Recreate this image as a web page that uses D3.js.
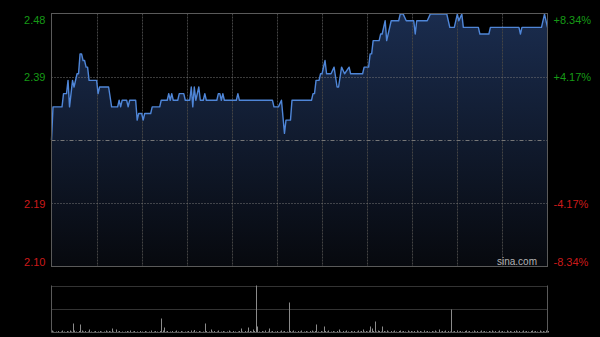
<!DOCTYPE html>
<html>
<head>
<meta charset="utf-8">
<script src="https://cdn.jsdelivr.net/npm/d3@7"></script>
<style>
  html, body { margin: 0; padding: 0; background: #000; }
  svg { display: block; }
  text { font-family: Arial, "Liberation Sans", sans-serif; }
</style>
</head>
<body>
<svg id="chart" width="600" height="337"></svg>
<script>
// ---- data ----
const prevClose = 2.29;
const rangePct = 0.0834;
const tickPcts = [0.0834, 0.0417, -0.0417, -0.0834];
const pctTicks = ["+8.34%", "+4.17%", "-4.17%", "-8.34%"];
const priceLabels = ["2.48", "2.39", "2.19", "2.10"];
const totalMinutes = 330;
const minutes = [0,1,7,8,10,11,12,14,15,17,18,19,20,21,22,23,24,25,30,31,32,38,40,44,45,46,47,50,51,52,56,57,58,60,61,62,66,67,72,73,77,78,79,80,81,84,85,88,89,92,93,94,95,96,98,99,101,102,103,110,111,112,113,114,115,123,124,125,147,148,151,153,155,156,159,160,173,174,175,176,178,179,180,182,183,186,188,190,191,193,195,198,199,207,208,211,212,213,214,218,219,220,222,223,226,231,232,234,236,241,242,243,250,252,263,264,265,268,270,271,273,274,284,285,291,292,311,312,313,326,328,330];
const prices = [2.29,2.34,2.34,2.36,2.36,2.38,2.34,2.38,2.37,2.39,2.39,2.42,2.42,2.41,2.41,2.40,2.40,2.38,2.38,2.36,2.37,2.37,2.34,2.34,2.35,2.34,2.35,2.35,2.34,2.35,2.35,2.32,2.33,2.33,2.32,2.33,2.33,2.34,2.34,2.35,2.35,2.36,2.35,2.36,2.35,2.35,2.36,2.36,2.35,2.35,2.37,2.34,2.37,2.35,2.37,2.35,2.35,2.36,2.35,2.35,2.36,2.36,2.35,2.36,2.35,2.35,2.36,2.35,2.35,2.34,2.34,2.35,2.30,2.32,2.32,2.35,2.35,2.36,2.36,2.38,2.38,2.39,2.39,2.41,2.39,2.39,2.40,2.37,2.37,2.40,2.39,2.40,2.39,2.39,2.40,2.40,2.42,2.42,2.44,2.44,2.45,2.45,2.47,2.44,2.47,2.47,2.48,2.48,2.47,2.47,2.45,2.47,2.47,2.48,2.48,2.47,2.46,2.46,2.48,2.47,2.48,2.46,2.46,2.45,2.45,2.46,2.46,2.45,2.46,2.46,2.48,2.46];
const volumes = [
  20,10,5,10,15,5,10,20,10,5, 15,10,20,10,90,20,10,5,15,80, 20,10,15,5,10,30,10,5,10,15,
  5,10,15,10,5,10,20,10,15,10, 40,10,5,30,10,15,5,10,5,10, 15,10,20,5,10,15,5,10,5,15,
  10,5,15,10,5,10,20,5,10,15, 10,5,15,140,20,50,10,15,5,10, 15,5,10,20,10,5,15,10,5,10,
  10,15,5,20,10,25,10,5,15,10, 5,10,90,15,5,10,30,10,15,5, 10,20,5,10,15,10,5,10,20,10,
  5,15,10,5,10,15,40,10,5,15, 10,50,15,10,30,15,470,60,10,5, 15,10,20,5,10,40,10,15,5,10,
  15,5,10,20,10,15,5,10,300,15, 10,20,10,5,15,10,20,5,10,15, 10,5,15,20,10,15,80,10,5,15,
  10,60,15,10,20,5,10,15,10,5, 15,30,10,5,15,10,20,10,5,15, 10,15,5,10,20,10,15,30,10,15,
  10,20,60,40,15,110,10,20,15,10, 60,15,10,20,10,5,15,10,20,10, 5,15,20,10,15,10,5,20,10,15,
  10,15,5,20,10,15,10,5,20,10, 15,10,5,15,10,20,10,5,30,10, 15,10,20,5,15,10,230,10,15,5,
  20,10,15,10,5,15,20,10,15,5, 10,20,10,15,5,10,20,10,15,10, 5,15,10,20,10,15,5,10,20,10,
  15,10,5,20,10,15,10,5,15,20, 10,15,5,10,20,10,15,10,5,15, 20,10,15,10,5,20,10,15,10,20,15
];

// ---- layout ----
const svg = d3.select("#chart");
const L = 51.5, R = 547.5, T = 13.5, B = 266.5;
const VT = 285.5, VB = 332.5;

const x = d3.scaleLinear().domain([0, totalMinutes]).range([L, R]);
const y = d3.scaleLinear().domain([prevClose * (1 - rangePct), prevClose * (1 + rangePct)]).range([B, T]);
const yv = d3.scaleLinear().domain([0, d3.max(volumes)]).range([VB, VT]);
const tickVals = tickPcts.map(p => prevClose * (1 + p));

const defs = svg.append("defs");
const grad = defs.append("linearGradient").attr("id", "areaGrad")
  .attr("gradientUnits", "userSpaceOnUse").attr("x1", 0).attr("x2", 0).attr("y1", T).attr("y2", B);
grad.append("stop").attr("offset", "0%").attr("stop-color", "#1a2c4e");
grad.append("stop").attr("offset", "100%").attr("stop-color", "#07090e");

const pts = minutes.map((m, i) => [m, prices[i]]);

// area
svg.append("path").datum(pts)
  .attr("fill", "url(#areaGrad)")
  .attr("d", d3.area().x(d => x(d[0])).y0(B).y1(d => y(d[1])));

// vertical grid
const vTicks = d3.range(30, totalMinutes, 30);
svg.append("g").selectAll("line").data(vTicks).join("line")
  .attr("x1", d => Math.round(x(d)) + 0.5).attr("x2", d => Math.round(x(d)) + 0.5)
  .attr("y1", T).attr("y2", B)
  .attr("stroke", "#444").attr("stroke-dasharray", "2,1");

// horizontal grid at +/-4.17%
svg.append("g").selectAll("line").data([tickVals[1], tickVals[2]]).join("line")
  .attr("x1", L).attr("x2", R)
  .attr("y1", d => Math.round(y(d)) + 0.5).attr("y2", d => Math.round(y(d)) + 0.5)
  .attr("stroke", "#777").attr("stroke-dasharray", "1,2");
// prev close line
svg.append("line")
  .attr("x1", L).attr("x2", R)
  .attr("y1", Math.round(y(prevClose)) + 0.5).attr("y2", Math.round(y(prevClose)) + 0.5)
  .attr("stroke", "#777").attr("stroke-dasharray", "4,2,1,2");

// price line
svg.append("path").datum(pts)
  .attr("fill", "none").attr("stroke", "#4f86d8").attr("stroke-width", 1.4)
  .attr("stroke-linejoin", "round")
  .attr("d", d3.line().x(d => x(d[0])).y(d => y(d[1])));

// frame
svg.append("rect").attr("x", L).attr("y", T).attr("width", R - L).attr("height", B - T)
  .attr("fill", "none").attr("stroke", "#5a5a5a");

// axis labels
const dyFor = i => i === 0 ? "0.95em" : (i === tickVals.length - 1 ? "-0.1em" : "0.35em");
const axL = d3.axisLeft(y).tickValues(tickVals).tickSize(0).tickFormat((d, i) => priceLabels[i]);
const gL = svg.append("g").attr("transform", `translate(${L - 3},0)`).call(axL);
gL.select(".domain").remove();
gL.selectAll("text")
  .attr("font-size", 11)
  .attr("fill", d => d > prevClose ? "#169a16" : "#cc1a1a")
  .attr("dy", (d, i) => dyFor(i));

const axR = d3.axisRight(y).tickValues(tickVals).tickSize(0).tickFormat((d, i) => pctTicks[i]);
const gR = svg.append("g").attr("transform", `translate(${R + 3},0)`).call(axR);
gR.select(".domain").remove();
gR.selectAll("text")
  .attr("font-size", 11)
  .attr("fill", d => d > prevClose ? "#169a16" : "#cc1a1a")
  .attr("dy", (d, i) => dyFor(i));

// watermark
svg.append("text").attr("x", 537).attr("y", 264.5).attr("text-anchor", "end")
  .attr("font-size", 10).attr("fill", "#b4b4b4").text("sina.com");

// ---- volume panel ----
svg.append("g").selectAll("line").data([yv.domain()[1], yv.domain()[1] / 2]).join("line")
  .attr("x1", L).attr("x2", R)
  .attr("y1", d => Math.round(yv(d)) + 0.5).attr("y2", d => Math.round(yv(d)) + 0.5)
  .attr("stroke", "#666").attr("stroke-dasharray", "1,1");

svg.append("g").selectAll("line").data(volumes).join("line")
  .attr("x1", (d, i) => Math.round(x(i)) + 0.5).attr("x2", (d, i) => Math.round(x(i)) + 0.5)
  .attr("y1", VB).attr("y2", d => yv(d))
  .attr("stroke", "#8a8a8a").attr("stroke-width", 1);

svg.append("line").attr("x1", L).attr("x2", L).attr("y1", VT).attr("y2", VB).attr("stroke", "#5a5a5a");
svg.append("line").attr("x1", R).attr("x2", R).attr("y1", VT).attr("y2", VB).attr("stroke", "#5a5a5a");
svg.append("line").attr("x1", L).attr("x2", R).attr("y1", VB).attr("y2", VB).attr("stroke", "#555");
</script>
</body>
</html>
